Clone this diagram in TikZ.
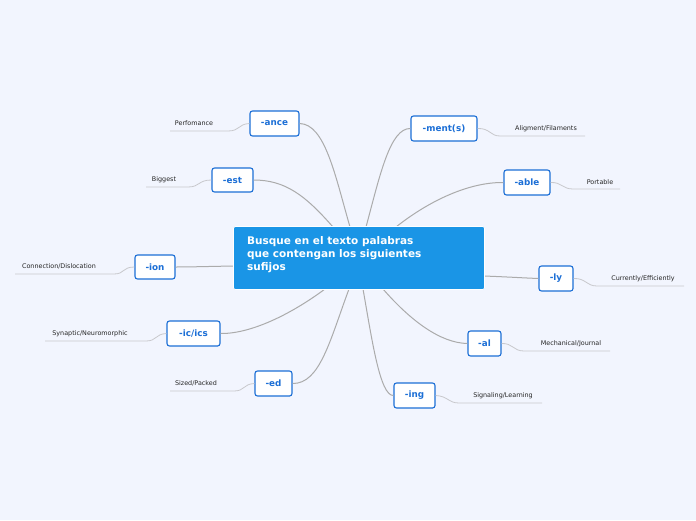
\documentclass[tikz,border=0pt]{standalone}
\usepackage{fontspec}
\setmainfont{DejaVu Sans}
\definecolor{bg}{HTML}{F2F5FE}
\definecolor{blu}{HTML}{1A95E6}
\definecolor{tblu}{HTML}{1C6FD6}
\definecolor{ln}{HTML}{ABABAB}
\definecolor{ul}{HTML}{C8C8CC}
\begin{document}
\begin{tikzpicture}[x=1pt,y=-1pt,
 sub/.style={draw=tblu,line width=1.1pt,fill=white,rounded corners=2.5pt,font=\bfseries\fontsize{8.8}{10}\selectfont,text=tblu,inner sep=0pt},
 leaf/.style={font=\fontsize{6.4}{7}\selectfont,text=black!85,inner sep=0pt},
 con/.style={draw=ln,line width=1pt},
 lc/.style={draw=ul,line width=0.8pt}]
\useasboundingbox[fill=bg] (0,0) rectangle (696,520);
\node[sub,minimum width=49pt,minimum height=25pt] (ance) at (274.5,123.5) {-ance};
\node[sub,minimum width=41pt,minimum height=24pt] (est) at (232.5,180) {-est};
\node[sub,minimum width=40pt,minimum height=24pt] (ion) at (155,267) {-ion};
\node[sub,minimum width=53pt,minimum height=25pt] (ic) at (193.5,333.5) {-ic/ics};
\node[sub,minimum width=37pt,minimum height=25pt] (ed) at (273.5,383.5) {-ed};
\node[sub,minimum width=66pt,minimum height=25pt] (ment) at (444,128.5) {-ment(s)};
\node[sub,minimum width=46pt,minimum height=25pt] (able) at (527,182.5) {-able};
\node[sub,minimum width=34pt,minimum height=25pt] (ly) at (556,278.5) {-ly};
\node[sub,minimum width=33pt,minimum height=25pt] (al) at (484.5,343.5) {-al};
\node[sub,minimum width=41pt,minimum height=25pt] (ing) at (414.5,395.5) {-ing};
% central connectors
\draw[con] (350,227) .. controls (335,175) and (325,124) .. (ance.east);
\draw[con] (333,227) .. controls (305,195) and (285,180) .. (est.east);
\draw[con] (234,266) .. controls (205,266.5) and (190,267) .. (ion.east);
\draw[con] (325,289) .. controls (290,315) and (250,334) .. (ic.east);
\draw[con] (349,289) .. controls (330,340) and (320,384) .. (ed.east);
\draw[con] (366,227) .. controls (380,175) and (390,128) .. (ment.west);
\draw[con] (396,227) .. controls (430,200) and (470,182) .. (able.west);
\draw[con] (484,276) .. controls (510,277) and (525,278) .. (ly.west);
\draw[con] (383,289) .. controls (410,320) and (440,343) .. (al.west);
\draw[con] (363,289) .. controls (372,340) and (380,396) .. (ing.west);
\node[fill=blu,draw=white,line width=0.8pt,rounded corners=2pt,minimum width=251pt,minimum height=63pt,inner sep=0pt] (c) at (359,258) {};
\node[anchor=north west,text=white,font=\bfseries\fontsize{10.5}{13}\selectfont,align=left,inner sep=0pt] (ct) at (247,236) {Busque en el texto palabras\\que contengan los siguientes\\sufijos};
% leaves
\node[leaf] (l1) at (194,123) {Perfomance};
\coordinate (u1) at (170,131); \coordinate (v1) at (228,131);
\draw[lc] (u1) -- (v1) .. controls (240,131) and (238,124) .. (ance.west);
\node[leaf] (l2) at (164,179.5) {Biggest};
\coordinate (u2) at (146,187); \coordinate (v2) at (188,187);
\draw[lc] (u2) -- (v2) .. controls (200,187) and (198,180) .. (est.west);
\node[leaf] (l3) at (59,266.5) {Connection/Dislocation};
\coordinate (u3) at (15,274); \coordinate (v3) at (114,274);
\draw[lc] (u3) -- (v3) .. controls (125,274) and (122,267) .. (ion.west);
\node[leaf] (l4) at (90,334) {Synaptic/Neuromorphic};
\coordinate (u4) at (45,341); \coordinate (v4) at (146,341);
\draw[lc] (u4) -- (v4) .. controls (157,341) and (155,334) .. (ic.west);
\node[leaf] (l5) at (196,383) {Sized/Packed};
\coordinate (u5) at (170,391); \coordinate (v5) at (234,391);
\draw[lc] (u5) -- (v5) .. controls (245,391) and (243,384) .. (ed.west);
\node[leaf] (l6) at (546,128.5) {Aligment/Filaments};
\coordinate (u6) at (585,136); \coordinate (v6) at (500,136);
\draw[lc] (u6) -- (v6) .. controls (490,136) and (490,128) .. (ment.east);
\node[leaf] (l7) at (600,182) {Portable};
\coordinate (u7) at (620,189); \coordinate (v7) at (573,189);
\draw[lc] (u7) -- (v7) .. controls (562,189) and (562,182) .. (able.east);
\node[leaf] (l8) at (643,278.5) {Currently/Efficiently};
\coordinate (u8) at (684,286); \coordinate (v8) at (597,286);
\draw[lc] (u8) -- (v8) .. controls (586,286) and (586,278) .. (ly.east);
\node[leaf] (l9) at (571,343.5) {Mechanical/Journal};
\coordinate (u9) at (610,351); \coordinate (v9) at (524,351);
\draw[lc] (u9) -- (v9) .. controls (513,351) and (513,343) .. (al.east);
\node[leaf] (l10) at (503,395.5) {Signaling/Learning};
\coordinate (u10) at (542,403); \coordinate (v10) at (459,403);
\draw[lc] (u10) -- (v10) .. controls (448,403) and (448,396) .. (ing.east);
\end{tikzpicture}
\end{document}
